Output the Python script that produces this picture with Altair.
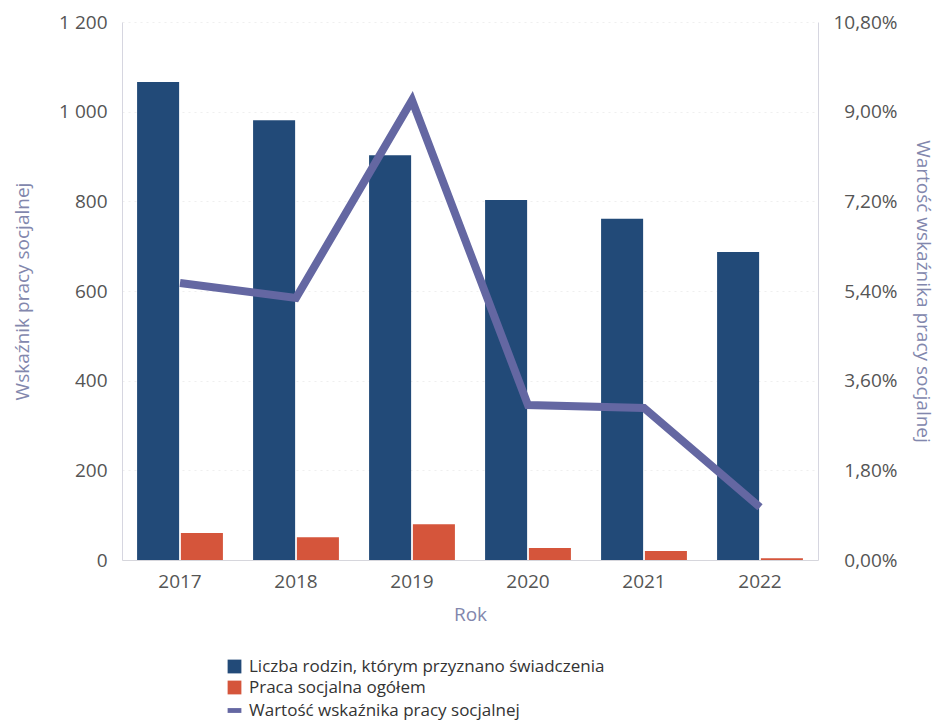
import altair as alt
import pandas as pd

years = ["2017", "2018", "2019", "2020", "2021", "2022"]
families = [1066, 981, 903, 803, 761, 687]
social_work = [60, 51, 80, 27, 20, 4]
indicator = [5.56, 5.26, 9.23, 3.11, 3.05, 1.06]

series_names = ["Liczba rodzin, którym przyznano świadczenia", "Praca socjalna ogółem"]
line_name = "Wartość wskaźnika pracy socjalnej"
left_ticks = [0, 200, 400, 600, 800, 1000, 1200]
right_ticks = [0, 1.8, 3.6, 5.4, 7.2, 9.0, 10.8]

DARK = "#224a78"
RED = "#d5553b"
LINE = "#6467a2"
TITLE_C = "#8287ad"
LABEL_C = "#555555"
FONT = "Open Sans"

rows = []
for y, a, b in zip(years, families, social_work):
    rows.append({"Rok": y, "Seria": series_names[0], "Wartosc": a})
    rows.append({"Rok": y, "Seria": series_names[1], "Wartosc": b})
df_bars = pd.DataFrame(rows)
df_line = pd.DataFrame({"Rok": years, "Wskaznik": indicator, "Nazwa": [line_name] * len(years)})

x_scale = alt.Scale(domain=years, paddingInner=0.26, paddingOuter=0.13)
x_axis = alt.Axis(title="Rok", labelAngle=0, ticks=False, labelPadding=12, titlePadding=14,
                  domainColor="#d6d6dc", grid=False)

bars = alt.Chart(df_bars).mark_bar().encode(
    x=alt.X("Rok:N", scale=x_scale, axis=x_axis),
    xOffset=alt.XOffset("Seria:N", sort=series_names, scale=alt.Scale(domain=series_names, paddingInner=0.04)),
    y=alt.Y("Wartosc:Q", scale=alt.Scale(domain=[0, 1200]),
            axis=alt.Axis(title="Wskaźnik pracy socjalnej", values=left_ticks, ticks=False,
                          labelPadding=15, titlePadding=26, domainColor="#d6d6e0",
                          grid=True, gridColor="#efefef", gridDash=[2, 4],
                          labelExpr="replace(format(datum.value, ','), ',', ' ')")),
    color=alt.Color("Seria:N", sort=series_names,
                    scale=alt.Scale(domain=series_names, range=[DARK, RED]),
                    legend=alt.Legend(title=None, orient="none", legendX=104, legendY=636,
                                      symbolType="square", symbolSize=190, rowPadding=3,
                                      labelFontSize=17, labelColor="#333333", labelFont=FONT,
                                      symbolStrokeWidth=0, labelOffset=6, labelLimit=0)),
)

line = alt.Chart(df_line).mark_line(strokeWidth=8).encode(
    x=alt.X("Rok:N", scale=x_scale, axis=x_axis),
    y=alt.Y("Wskaznik:Q", scale=alt.Scale(domain=[0, 10.8]),
            axis=alt.Axis(title=line_name, orient="right", values=right_ticks, ticks=False,
                          labelAlign="right", labelPadding=79, titlePadding=15,
                          domainColor="#d6d6e0", grid=False,
                          labelExpr="replace(format(datum.value, '.2f'), '.', ',') + '%'")),
    stroke=alt.Stroke("Nazwa:N", scale=alt.Scale(domain=[line_name], range=[LINE]),
                      legend=alt.Legend(title=None, orient="none", legendX=104, legendY=680,
                                        symbolType="M-1,-0.35H1V0.35H-1Z", symbolSize=190,
                                        symbolFillColor=LINE, symbolStrokeWidth=0,
                                        labelFontSize=17, labelColor="#333333", labelFont=FONT,
                                        labelOffset=6, labelLimit=0)),
)

chart = alt.layer(bars, line).resolve_scale(y="independent").properties(
    width=696, height=538, padding={"left": 5, "right": 5, "top": 5, "bottom": 5}
).configure_view(stroke=None).configure_axis(
    labelFont=FONT, titleFont=FONT, labelFontSize=19, titleFontSize=19,
    labelColor=LABEL_C, titleColor=TITLE_C, titleFontWeight="normal"
)

chart.save("out.html", embed_options={"renderer": "svg", "actions": False})
